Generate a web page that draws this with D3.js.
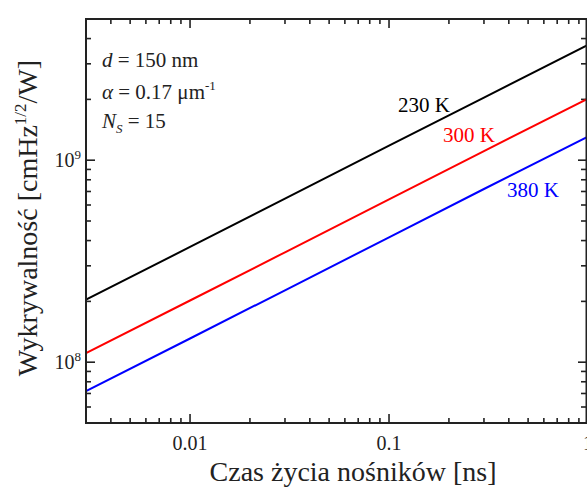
<!DOCTYPE html>
<html>
<head>
<meta charset="utf-8">
<script src="https://cdn.jsdelivr.net/npm/d3@7"></script>
<style>
  html, body { margin: 0; padding: 0; background: #fff; }
  svg { display: block; }
  text { font-family: "Liberation Serif", "Times New Roman", Times, serif; }
</style>
</head>
<body>
<svg id="chart" width="587" height="491"></svg>
<script>
// ---- data ----
const lifetimes = [0.003, 0.01, 0.03, 0.1, 0.3, 1];            // ns
const d230 = [2.04e8, 3.72e8, 6.45e8, 1.18e9, 2.04e9, 3.72e9];
const d300 = [1.11e8, 2.02e8, 3.50e8, 6.40e8, 1.11e9, 2.02e9];
const d380 = [7.2e7, 1.31e8, 2.27e8, 4.15e8, 7.2e8, 1.31e9];
const seriesNames = ["230 K", "300 K", "380 K"];
const seriesColors = ["#000000", "#ff0000", "#0000ff"];
const xMajorTicks = [0.01, 0.1, 1];
const xTickLabels = ["0.01", "0.1", "1"];
const yMajorTicks = [1e8, 1e9];
const yTickExp = ["8", "9"];

const svg = d3.select("#chart");
const L = 86, R = 588, T = 19, B = 423;
const x = d3.scaleLog().domain([0.003, 1]).range([L, R]);
const y = d3.scaleLog().domain([5e7, 5e9]).range([B, T]);

// minor ticks
const xMinor = [];
[0.001, 0.01, 0.1].forEach(dec => { for (let k = 2; k <= 9; k++) { const v = dec * k; if (v >= 0.003 && v <= 1) xMinor.push(v); } });
const yMinor = [];
[1e7, 1e8, 1e9].forEach(dec => { for (let k = 2; k <= 9; k++) { const v = dec * k; if (v >= 5e7 && v <= 5e9) yMinor.push(v); } });

const ink = "#222";
const tickG = svg.append("g").attr("stroke", ink).attr("stroke-width", 1.6);
xMinor.forEach(v => {
  tickG.append("line").attr("x1", x(v)).attr("x2", x(v)).attr("y1", B).attr("y2", B - 5);
  tickG.append("line").attr("x1", x(v)).attr("x2", x(v)).attr("y1", T).attr("y2", T + 5);
});
xMajorTicks.forEach(v => {
  tickG.append("line").attr("x1", x(v)).attr("x2", x(v)).attr("y1", B).attr("y2", B - 9);
  tickG.append("line").attr("x1", x(v)).attr("x2", x(v)).attr("y1", T).attr("y2", T + 9);
});
yMinor.forEach(v => {
  tickG.append("line").attr("y1", y(v)).attr("y2", y(v)).attr("x1", L).attr("x2", L + 5);
  tickG.append("line").attr("y1", y(v)).attr("y2", y(v)).attr("x1", R - 1.5).attr("x2", R - 7);
});
yMajorTicks.forEach(v => {
  tickG.append("line").attr("y1", y(v)).attr("y2", y(v)).attr("x1", L).attr("x2", L + 9);
  tickG.append("line").attr("y1", y(v)).attr("y2", y(v)).attr("x1", R - 1.5).attr("x2", R - 10);
});

// series lines
const line = d3.line().x((d, i) => x(lifetimes[i])).y(d => y(d));
svg.append("clipPath").attr("id", "clip").append("rect")
  .attr("x", L).attr("y", T).attr("width", R - L).attr("height", B - T);
[d230, d300, d380].forEach((s, i) => {
  svg.append("path").datum(s).attr("d", line).attr("fill", "none")
    .attr("stroke", seriesColors[i]).attr("stroke-width", 2).attr("clip-path", "url(#clip)");
});

// frame
svg.append("rect").attr("x", L).attr("y", T).attr("width", R - L - 1.5).attr("height", B - T)
  .attr("fill", "none").attr("stroke", ink).attr("stroke-width", 2);

// x tick labels
xMajorTicks.forEach((v, i) => {
  svg.append("text").attr("x", x(v)).attr("y", 450).attr("text-anchor", "middle")
    .attr("font-size", 20).attr("fill", ink).text(xTickLabels[i]);
});
// y tick labels
yMajorTicks.forEach((v, i) => {
  const t = svg.append("text").attr("x", 81).attr("y", y(v) + 7).attr("text-anchor", "end")
    .attr("font-size", 20).attr("fill", ink);
  t.append("tspan").text("10");
  t.append("tspan").attr("font-size", 13).attr("dy", -8).text(yTickExp[i]);
});

// series labels
const labelPos = [[398, 112], [443, 142], [507, 197]];
seriesNames.forEach((n, i) => {
  svg.append("text").attr("x", labelPos[i][0]).attr("y", labelPos[i][1])
    .attr("font-size", 21).attr("fill", seriesColors[i]).text(n);
});

// annotation
const a1 = svg.append("text").attr("x", 102).attr("y", 67).attr("font-size", 21).attr("fill", ink);
a1.append("tspan").attr("font-style", "italic").text("d");
a1.append("tspan").text(" = 150 nm");
const a2 = svg.append("text").attr("x", 102).attr("y", 99).attr("font-size", 21).attr("fill", ink);
a2.append("tspan").attr("font-style", "italic").text("α");
a2.append("tspan").text(" = 0.17 μm");
a2.append("tspan").attr("font-size", 13).attr("dy", -9).text("-1");
const a3 = svg.append("text").attr("x", 102).attr("y", 128).attr("font-size", 21).attr("fill", ink);
a3.append("tspan").attr("font-style", "italic").text("N");
a3.append("tspan").attr("font-style", "italic").attr("font-size", 13).attr("dy", 5).text("S");
a3.append("tspan").attr("dy", -5).text(" = 15");

// axis titles
svg.append("text").attr("x", 353).attr("y", 481).attr("text-anchor", "middle")
  .attr("font-size", 28).attr("fill", ink).text("Czas życia nośników [ns]");
const yt = svg.append("text").attr("transform", "translate(37,218) rotate(-90)")
  .attr("text-anchor", "middle").attr("font-size", 28).attr("fill", ink);
yt.append("tspan").text("Wykrywalność [cmHz");
yt.append("tspan").attr("font-size", 17).attr("dy", -11).text("1/2");
yt.append("tspan").attr("dy", 11).text("/W]");
</script>
</body>
</html>
